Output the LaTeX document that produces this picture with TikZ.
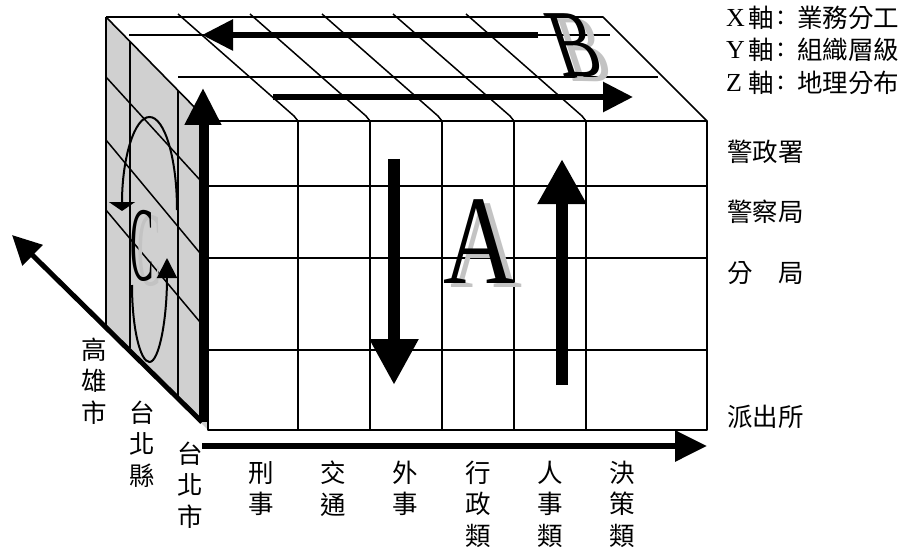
\documentclass[tikz,border=0pt]{standalone}
\usepackage{fontspec}
\setmainfont{Liberation Serif}
\newfontfamily\cjk{Noto Sans CJK TC}
\usetikzlibrary{arrows.meta}
\definecolor{facegray}{RGB}{208,208,208}
\definecolor{shadowgray}{RGB}{195,195,195}
\begin{document}
\begin{tikzpicture}[x=1pt,y=-1pt,
  edge/.style={line width=1.6pt, line join=round},
  thinline/.style={line width=1.5pt},
  loopline/.style={line width=2pt},
  cjklabel/.style={font=\cjk\fontsize{25.5}{31.5}\selectfont, inner sep=0pt, align=center},
  rowlabel/.style={font=\cjk\fontsize{25.5}{31.5}\selectfont, inner sep=0pt, anchor=west},
  legendlat/.style={font=\fontsize{26}{28}\selectfont, inner sep=0pt, anchor=west},
  legendcjk/.style={font=\cjk\fontsize{25.5}{28}\selectfont, inner sep=0pt, anchor=west},
  bigletter/.style={inner sep=0pt}
]
\useasboundingbox (0,0) rectangle (904,548);

% corners
\coordinate (TBL) at (106,17);
\coordinate (TBR) at (603,17);
\coordinate (FTL) at (208,121);
\coordinate (FTR) at (707,121);
\coordinate (FBL) at (208,430);
\coordinate (FBR) at (707,430);
\coordinate (LBB) at (106,325);

% left face fill
\fill[facegray] (TBL) -- (FTL) -- (FBL) -- (LBB) -- cycle;

% top face
\draw[edge] (TBL) -- (TBR) -- (FTR);
\draw[edge] (TBL) -- (FTL);
\draw[thinline] (129,35) -- (610,35);
\draw[thinline] (178,77) -- (658,77);
\foreach \b/\f in {178/298, 250/370, 322/442, 393/514, 466/586}{
  \draw[thinline] (\b,14) -- (\f-4,116) -- (\f,121);
}

% left face
\draw[thinline] (TBL) -- (LBB);
\draw[thinline] (130,42) -- (130,348);
\draw[thinline] (178,90) -- (178,396);
\draw[thinline] (106,77) -- (200,180);
\draw[thinline] (106,140) -- (200,253);
\draw[thinline] (106,210) -- (200,322);

% front face
\draw[edge] (FTL) rectangle (FBR);
\foreach \y in {186,258,350}{ \draw[thinline] (208,\y) -- (707,\y); }
\foreach \x in {298,370,442,514,586}{ \draw[thinline] (\x,121) -- (\x,430); }

% big letters
\node[bigletter, font=\fontsize{127}{127}\selectfont, text=shadowgray] (Ash) at (486,246) {\scalebox{0.785}[1]{A}};
\node[bigletter, font=\fontsize{127}{127}\selectfont] (A) at (479,241.5) {\scalebox{0.785}[1]{A}};
\begin{scope}[shift={(584,50.5)}, xslant=-0.33]
  \node[bigletter, transform shape, font=\fontsize{96}{96}\selectfont, text=shadowgray] (Bsh) at (0,0) {\scalebox{0.7}[1]{B}};
\end{scope}
\begin{scope}[shift={(575,45.5)}, xslant=-0.33]
  \node[bigletter, transform shape, font=\fontsize{96}{96}\selectfont] (B) at (0,0) {\scalebox{0.7}[1]{B}};
\end{scope}
\node[bigletter, font=\fontsize{106}{106}\selectfont, text=shadowgray] (Csh) at (149.5,251) {\scalebox{0.33}[1]{C}};
\node[bigletter, font=\fontsize{106}{106}\selectfont] (C) at (142.5,246) {\scalebox{0.33}[1]{C}};

% C loop arrows
\draw[loopline, -{Triangle[length=9pt,width=26pt]}] (177,210) .. controls (177,158.6) and (164.7,117) .. (149.5,117) .. controls (134.3,117) and (122,158.6) .. (122,211);
\draw[loopline, -{Triangle[length=20pt,width=20pt]}] (132,285) .. controls (132,327) and (140,362) .. (149.5,362) .. controls (159,362) and (167,320) .. (167,258);

% arrows
\coordinate (b1s) at (538,35);  \coordinate (b1e) at (202,35);
\coordinate (b2s) at (273,97);  \coordinate (b2e) at (633,97);
\coordinate (a1s) at (394,159); \coordinate (a1e) at (394,385);
\coordinate (a2s) at (562,385); \coordinate (a2e) at (562,159);
\coordinate (ys) at (203,422);  \coordinate (ye) at (203,88);
\coordinate (zs) at (202,422);  \coordinate (ze) at (12,235);
\coordinate (xs) at (202,446);  \coordinate (xe) at (707,446);

\draw[line width=6pt, -{Triangle[length=31pt,width=30pt]}] (b1s) -- (b1e);
\draw[line width=6pt, -{Triangle[length=30pt,width=29pt]}] (b2s) -- (b2e);
\draw[line width=12pt, -{Triangle[length=46pt,width=46pt]}] (a1s) -- (a1e);
\draw[line width=12pt, -{Triangle[length=45pt,width=46pt]}] (a2s) -- (a2e);
\draw[line width=8pt, -{Triangle[length=37pt,width=35pt]}] (ys) -- (ye);
\draw[line width=5pt, -{Triangle[length=29pt,width=28pt]}] (zs) -- (ze);
\draw[line width=6pt, -{Triangle[length=32pt,width=30pt]}] (xs) -- (xe);

% legend
\foreach \r/\yy/\L/\T in {x/18/X/業務分工, y/50/Y/組織層級, z/83/Z/地理分布}{
  \node[legendlat] (l\r a) at (726,\yy) {\L};
  \node[legendcjk] (l\r b) at (748,\yy) {軸};
  \node[legendcjk] (l\r c) at (777,\yy) {:};
  \node[legendcjk] (l\r d) at (797,\yy) {\T};
}

% row labels
\node[rowlabel] (r1) at (727,152) {警政署};
\node[rowlabel] (r2) at (727,212) {警察局};
\node[rowlabel] (r3) at (727,273) {分　局};
\node[rowlabel] (r4) at (727,417) {派出所};

% city labels
\node[cjklabel] (c1) at (94,381) {高\\雄\\市};
\node[cjklabel] (c2) at (142,444) {台\\北\\縣};
\node[cjklabel] (c3) at (190,485) {台\\北\\市};

% column labels
\node[cjklabel] (k1) at (261,488.5) {刑\\事};
\node[cjklabel] (k2) at (333,488.5) {交\\通};
\node[cjklabel] (k3) at (405,488.5) {外\\事};
\node[cjklabel] (k4) at (478,504) {行\\政\\類};
\node[cjklabel] (k5) at (550,504) {人\\事\\類};
\node[cjklabel] (k6) at (622,504) {決\\策\\類};
\end{tikzpicture}
\end{document}
